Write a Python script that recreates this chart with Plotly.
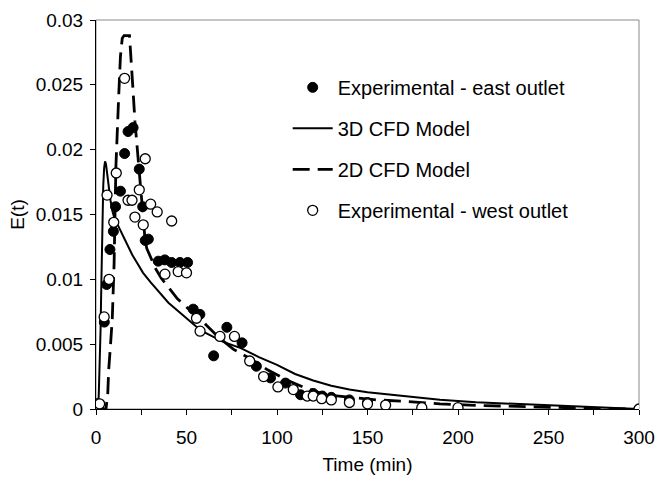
import plotly.graph_objects as go

# 3D CFD model
t_3d = [0, 1, 1.5, 2, 2.5, 3, 3.5, 4, 4.5, 5, 5.5, 6, 7, 8, 9, 10, 12, 14, 17, 20, 23, 26, 30, 35,
        40, 45, 50, 55, 60, 70, 80, 90, 100, 110, 120, 130, 140, 150, 170, 190, 210, 230, 250, 270, 300]
e_3d = [0, 0.0002, 0.001, 0.003, 0.006, 0.010, 0.014, 0.0172, 0.0186, 0.0191, 0.0189, 0.0183, 0.0170,
        0.0161, 0.0153, 0.0148, 0.0142, 0.0136, 0.0127, 0.0119, 0.0112, 0.0105, 0.0098, 0.0090,
        0.0082, 0.0076, 0.0070, 0.0064, 0.0059, 0.0052, 0.0047, 0.0040, 0.0034, 0.0027, 0.0022,
        0.0018, 0.0015, 0.0013, 0.0010, 0.00072, 0.00052, 0.0004, 0.0003, 0.0002, 0]

# 2D CFD model
t_2d = [0, 5.5, 6.5, 7, 8, 9, 10, 11, 12.5, 13.5, 14.5, 15.5, 18.5, 19.5, 20.5, 21.5, 22.5, 24, 25,
        26, 27, 28, 30, 33, 36, 40, 45, 52, 60, 68, 76, 85, 95, 106, 116, 127, 140, 155, 170, 190,
        210, 230, 252, 275, 300]
e_2d = [0, 0, 0.0012, 0.003, 0.0049, 0.007, 0.0112, 0.0187, 0.0240, 0.0272, 0.0286, 0.0288, 0.0288,
        0.0270, 0.0245, 0.0222, 0.0204, 0.0182, 0.0165, 0.0150, 0.0132, 0.0124, 0.0117, 0.0108,
        0.0101, 0.0094, 0.0085, 0.0076, 0.0066, 0.0055, 0.0046, 0.0039, 0.0030, 0.0022, 0.0016,
        0.0011, 0.0009, 0.0007, 0.0006, 0.0004, 0.00028, 0.0002, 0.0001, 0.00005, 0]

# Experimental - east outlet
t_east = [0.5, 1.5, 4.6, 5.9, 7.7, 9.6, 10.8, 13.5, 15.8, 17.7, 20.5, 23.9, 25.8, 27.2, 28.9, 34.4,
          38, 41.8, 46.4, 50.6, 53.7, 57.4, 65, 72.3, 80.7, 88.6, 96.4, 104.7, 113, 120, 125, 130,
          140, 150]
e_east = [0.0003, 0.0004, 0.0067, 0.0096, 0.0123, 0.0137, 0.0156, 0.0168, 0.0197, 0.0214, 0.0217,
          0.0185, 0.0156, 0.0130, 0.0131, 0.0114, 0.0115, 0.0113, 0.0113, 0.0113, 0.0077, 0.0073,
          0.0041, 0.0063, 0.0051, 0.0033, 0.0024, 0.0020, 0.0011, 0.0012, 0.0010, 0.0009,
          0.0007, 0.0005]

# Experimental - west outlet
t_west = [0.3, 1.2, 2, 4.5, 7.2, 9.8, 6.1, 11.2, 15.8, 17.7, 19.9, 21.5, 23.9, 26.1, 27.2, 30.2,
          33.8, 38.1, 41.8, 45.4, 50, 55.5, 57.5, 68.5, 76.5, 84.9, 92.6, 100.5, 109, 116.7, 120,
          124.7, 130, 140, 150, 160, 180, 200, 300]
e_west = [0.0004, 0.0002, 0.0004, 0.0071, 0.0100, 0.0144, 0.0165, 0.0182, 0.0255, 0.0161, 0.0161,
          0.0148, 0.0169, 0.0142, 0.0193, 0.0158, 0.0152, 0.0104, 0.0145, 0.0106, 0.0105, 0.0070,
          0.0060, 0.0056, 0.0056, 0.0037, 0.0025, 0.0017, 0.0015, 0.0010, 0.0010, 0.0008, 0.0007,
          0.0005, 0.0004, 0.0003, 0.0001, 0.0001, 0.0]

fig = go.Figure()
fig.add_trace(go.Scatter(x=t_3d, y=e_3d, mode="lines", name="3D CFD Model",
                         line=dict(color="black", width=2), legendgroup="b", legendrank=2))
fig.add_trace(go.Scatter(x=t_2d, y=e_2d, mode="lines", name="2D CFD Model",
                         line=dict(color="black", width=2.8, dash="17px,8px"),
                         legendgroup="c", legendrank=3))
fig.add_trace(go.Scatter(x=t_east, y=e_east, mode="markers", name="Experimental - east outlet",
                         marker=dict(symbol="circle", size=10, color="black",
                                     line=dict(color="black", width=1)),
                         legendgroup="a", legendrank=1))
fig.add_trace(go.Scatter(x=t_west, y=e_west, mode="markers", name="Experimental - west outlet",
                         marker=dict(symbol="circle", size=10, color="white",
                                     line=dict(color="black", width=1.3)),
                         legendgroup="d", legendrank=4))

font = "Liberation Sans, Arial, sans-serif"
fs = 19
fig.update_layout(
    width=655, height=482,
    margin=dict(l=96, r=16, t=20, b=73),
    paper_bgcolor="white", plot_bgcolor="white",
    font=dict(family=font, size=fs, color="black"),
    showlegend=True,
    legend=dict(x=0.353, y=0.877, xanchor="left", yanchor="top",
                bgcolor="rgba(0,0,0,0)", font=dict(size=20, family=font, color="black"),
                tracegroupgap=12, itemwidth=40),
    xaxis=dict(range=[0, 300], tickvals=[0, 50, 100, 150, 200, 250, 300],
               ticks="outside", ticklen=5, tickwidth=1, tickcolor="black",
               minor=dict(dtick=25, ticks="outside", ticklen=5, tickcolor="black"),
               showline=True, linecolor="black", linewidth=1, showgrid=False, zeroline=False,
               automargin=False, ticklabelstandoff=6,
               title=dict(text="Time (min)", font=dict(size=fs), standoff=10),
               tickfont=dict(size=fs)),
    yaxis=dict(range=[0, 0.03],
               tickvals=[0, 0.005, 0.01, 0.015, 0.02, 0.025, 0.03],
               ticktext=["0", "0.005", "0.01", "0.015", "0.02", "0.025", "0.03"],
               ticks="outside", ticklen=5, tickwidth=1, tickcolor="black",
               showline=True, linecolor="black", linewidth=1, showgrid=False, zeroline=False,
               automargin=False, ticklabelstandoff=3,
               title=dict(text="E(t)", font=dict(size=fs), standoff=6),
               tickfont=dict(size=fs)),
    shapes=[dict(type="rect", xref="paper", yref="paper", x0=0, y0=0, x1=1, y1=1,
                 line=dict(color="#8a8a8a", width=1), layer="below")],
)

fig.write_html("out.html")
